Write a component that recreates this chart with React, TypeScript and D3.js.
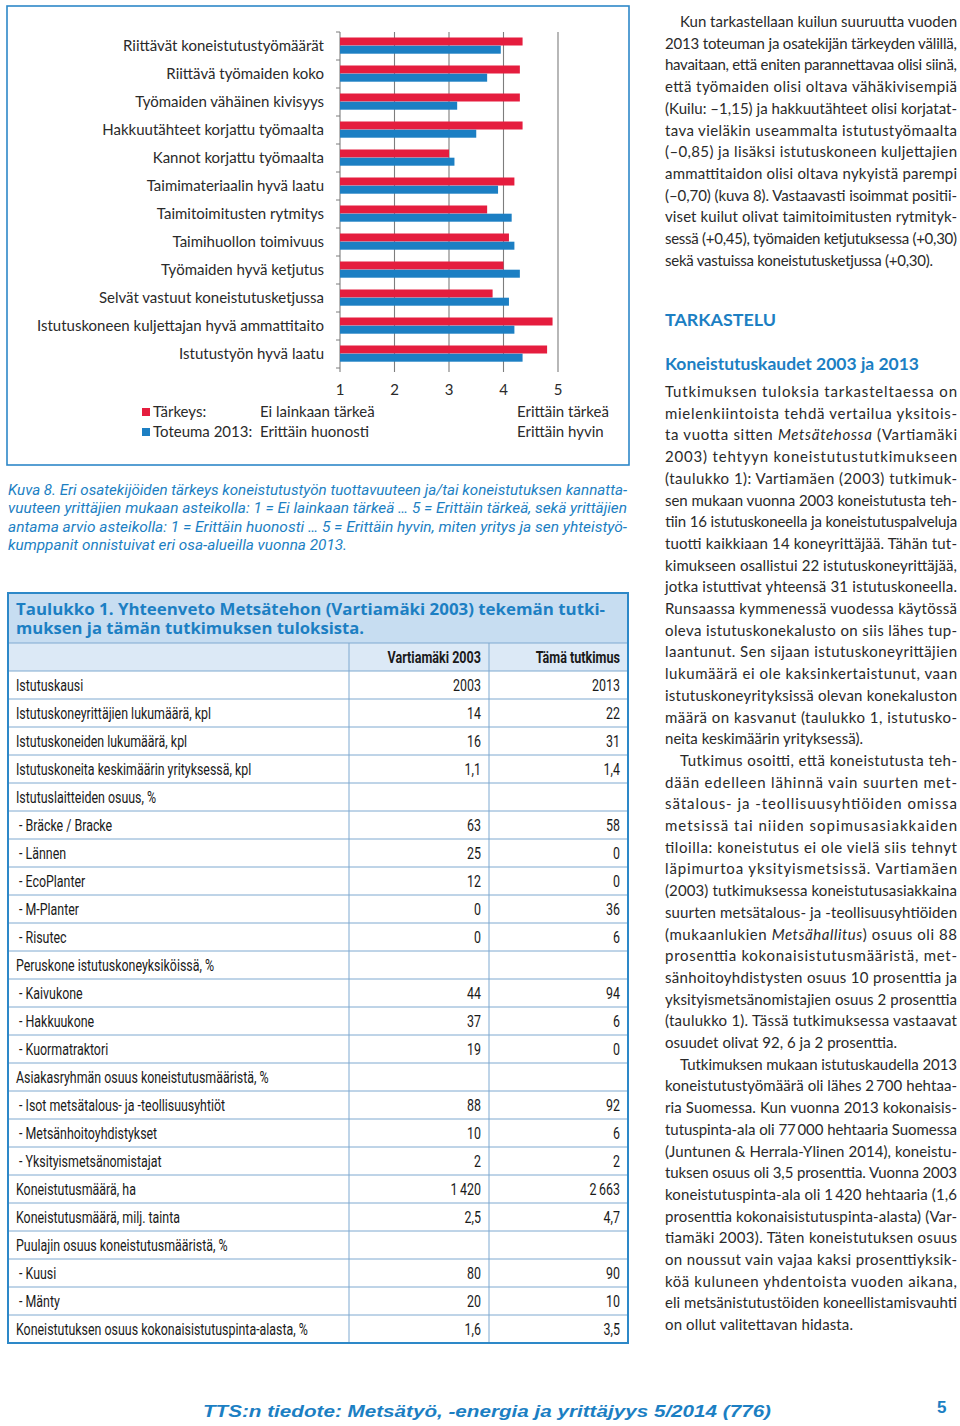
import React from 'react';
import * as d3 from 'd3';

const categories = [
  'Riittävät koneistutustyömäärät',
  'Riittävä työmaiden koko',
  'Työmaiden vähäinen kivisyys',
  'Hakkuutähteet korjattu työmaalta',
  'Kannot korjattu työmaalta',
  'Taimimateriaalin hyvä laatu',
  'Taimitoimitusten rytmitys',
  'Taimihuollon toimivuus',
  'Työmaiden hyvä ketjutus',
  'Selvät vastuut koneistutusketjussa',
  'Istutuskoneen kuljettajan hyvä ammattitaito',
  'Istutustyön hyvä laatu',
];
const importance = [4.35, 4.3, 4.3, 4.35, 3.0, 4.2, 3.7, 4.1, 4.0, 3.8, 4.9, 4.8];
const realization = [3.95, 3.7, 3.15, 3.5, 3.1, 3.9, 4.15, 4.2, 4.3, 4.1, 4.2, 4.35];
const xTicks = [1, 2, 3, 4, 5];
const legendSeries = ['Tärkeys:', 'Toteuma 2013:'];
const legendLow = ['Ei lainkaan tärkeä', 'Erittäin huonosti'];
const legendHigh = ['Erittäin tärkeä', 'Erittäin hyvin'];

const captionLines = [
  'Kuva 8. Eri osatekijöiden tärkeys koneistutustyön tuottavuuteen ja/tai koneistutuksen kannatta-',
  'vuuteen yrittäjien mukaan asteikolla: 1 = Ei lainkaan tärkeä … 5 = Erittäin tärkeä, sekä yrittäjien',
  'antama arvio asteikolla: 1 = Erittäin huonosti … 5 = Erittäin hyvin, miten yritys ja sen yhteistyö-',
  'kumppanit onnistuivat eri osa-alueilla vuonna 2013.',
];
const captionWidths = [619, 619, 619, 339];

const tableTitleLines = [
  'Taulukko 1. Yhteenveto Metsätehon (Vartiamäki 2003) tekemän tutki-',
  'muksen ja tämän tutkimuksen tuloksista.',
];
const tableTitleWidths = [589, 348];
const tableHeaders = ['Vartiamäki 2003', 'Tämä tutkimus'];
const tableLabels = [
  'Istutuskausi',
  'Istutuskoneyrittäjien lukumäärä, kpl',
  'Istutuskoneiden lukumäärä, kpl',
  'Istutuskoneita keskimäärin yrityksessä, kpl',
  'Istutuslaitteiden osuus, %',
  '- Bräcke / Bracke',
  '- Lännen',
  '- EcoPlanter',
  '- M-Planter',
  '- Risutec',
  'Peruskone istutuskoneyksiköissä, %',
  '- Kaivukone',
  '- Hakkuukone',
  '- Kuormatraktori',
  'Asiakasryhmän osuus koneistutusmääristä, %',
  '- Isot metsätalous- ja -teollisuusyhtiöt',
  '- Metsänhoitoyhdistykset',
  '- Yksityismetsänomistajat',
  'Koneistutusmäärä, ha',
  'Koneistutusmäärä, milj. tainta',
  'Puulajin osuus koneistutusmääristä, %',
  '- Kuusi',
  '- Mänty',
  'Koneistutuksen osuus kokonaisistutuspinta-alasta, %',
];
const tableV2003 = ['2003', '14', '16', '1,1', '', '63', '25', '12', '0', '0', '', '44', '37', '19', '', '88', '10', '2', '1\u2009420', '2,5', '', '80', '20', '1,6'];
const tableV2013 = ['2013', '22', '31', '1,4', '', '58', '0', '0', '36', '6', '', '94', '6', '0', '', '92', '6', '2', '2\u2009663', '4,7', '', '90', '10', '3,5'];

// Body text: [text, indent, lastLineWidth or 0 for justified]
const block1: [string, boolean, number][] = [
  ['Kun tarkastellaan kuilun suuruutta vuoden', true, 0],
  ['2013 toteuman ja osatekijän tärkeyden välillä,', false, 0],
  ['havaitaan, että eniten parannettavaa olisi siinä,', false, 0],
  ['että työmaiden olisi oltava vähäkivisempiä', false, 0],
  ['(Kuilu: –1,15) ja hakkuutähteet olisi korjatat-', false, 0],
  ['tava vieläkin useammalta istutustyömaalta', false, 0],
  ['(–0,85) ja lisäksi istutuskoneen kuljettajien', false, 0],
  ['ammattitaidon olisi oltava nykyistä parempi', false, 0],
  ['(–0,70) (kuva 8). Vastaavasti isoimmat positii-', false, 0],
  ['viset kuilut olivat taimitoimitusten rytmityk-', false, 0],
  ['sessä (+0,45), työmaiden ketjutuksessa (+0,30)', false, 0],
  ['sekä vastuissa koneistutusketjussa (+0,30).', false, 268],
];
const headings = ['TARKASTELU', 'Koneistutuskaudet 2003 ja 2013'];
const block2: [string, boolean, number][] = [
  ['Tutkimuksen tuloksia tarkasteltaessa on', false, 0],
  ['mielenkiintoista tehdä vertailua yksitois-', false, 0],
  ['ta vuotta sitten *Metsätehossa* (Vartiamäki', false, 0],
  ['2003) tehtyyn koneistutustutkimukseen', false, 0],
  ['(taulukko 1): Vartiamäen (2003) tutkimuk-', false, 0],
  ['sen mukaan vuonna 2003 koneistutusta teh-', false, 0],
  ['tiin 16 istutuskoneella ja koneistutuspalveluja', false, 0],
  ['tuotti kaikkiaan 14 koneyrittäjää. Tähän tut-', false, 0],
  ['kimukseen osallistui 22 istutuskoneyrittäjää,', false, 0],
  ['jotka istuttivat yhteensä 31 istutuskoneella.', false, 0],
  ['Runsaassa kymmenessä vuodessa käytössä', false, 0],
  ['oleva istutuskonekalusto on siis lähes tup-', false, 0],
  ['laantunut. Sen sijaan istutuskoneyrittäjien', false, 0],
  ['lukumäärä ei ole kaksinkertaistunut, vaan', false, 0],
  ['istutuskoneyrityksissä olevan konekaluston', false, 0],
  ['määrä on kasvanut (taulukko 1, istutusko-', false, 0],
  ['neita keskimäärin yrityksessä).', false, 198],
  ['Tutkimus osoitti, että koneistutusta teh-', true, 0],
  ['dään edelleen lähinnä vain suurten met-', false, 0],
  ['sätalous- ja -teollisuusyhtiöiden omissa', false, 0],
  ['metsissä tai niiden sopimusasiakkaiden', false, 0],
  ['tiloilla: koneistutus ei ole vielä siis tehnyt', false, 0],
  ['läpimurtoa yksityismetsissä. Vartiamäen', false, 0],
  ['(2003) tutkimuksessa koneistutusasiakkaina', false, 0],
  ['suurten metsätalous- ja -teollisuusyhtiöiden', false, 0],
  ['(mukaanlukien *Metsähallitus*) osuus oli 88', false, 0],
  ['prosenttia kokonaisistutusmääristä, met-', false, 0],
  ['sänhoitoyhdistysten osuus 10 prosenttia ja', false, 0],
  ['yksityismetsänomistajien osuus 2 prosenttia', false, 0],
  ['(taulukko 1). Tässä tutkimuksessa vastaavat', false, 0],
  ['osuudet olivat 92, 6 ja 2 prosenttia.', false, 232],
  ['Tutkimuksen mukaan istutuskaudella 2013', true, 0],
  ['koneistutustyömäärä oli lähes 2\u2009700 hehtaa-', false, 0],
  ['ria Suomessa. Kun vuonna 2013 kokonaisis-', false, 0],
  ['tutuspinta-ala oli 77\u2009000 hehtaaria Suomessa', false, 0],
  ['(Juntunen & Herrala-Ylinen 2014), koneistu-', false, 0],
  ['tuksen osuus oli 3,5 prosenttia. Vuonna 2003', false, 0],
  ['koneistutuspinta-ala oli 1\u2009420 hehtaaria (1,6', false, 0],
  ['prosenttia kokonaisistutuspinta-alasta) (Var-', false, 0],
  ['tiamäki 2003). Täten koneistutuksen osuus', false, 0],
  ['on noussut vain vajaa kaksi prosenttiyksik-', false, 0],
  ['köä kuluneen yhdentoista vuoden aikana,', false, 0],
  ['eli metsänistutustöiden koneellistamisvauhti', false, 0],
  ['on ollut valitettavan hidasta.', false, 188],
];
const footerText = 'TTS:n tiedote: Metsätyö, -energia ja yrittäjyys 5/2014 (776)';
const pageNumber = '5';

const RED = '#e51d3e';
const BLUE = '#1c7fc3';
const FRAME = '#2d88c8';
const TEXT = '#2a2a2a';
const BODY_FONT = 'Lato, "Open Sans", sans-serif';
const COND_FONT = 'Roboto, "Liberation Sans", sans-serif';

function renderRich(s: string) {
  const parts = s.split('*');
  return parts.map((p, i) => (
    <tspan key={i} fontStyle={i % 2 === 1 ? 'italic' : 'normal'}>{p}</tspan>
  ));
}

function BodyBlock({ lines, y0 }: { lines: [string, boolean, number][]; y0: number }) {
  const colLeft = 665;
  const colRight = 957;
  const lh = 21.7;
  return (
    <g fontFamily={BODY_FONT} fontSize={15} fill={TEXT}>
      {lines.map(([t, indent, lastW], i) => {
        const x = indent ? colLeft + 15 : colLeft;
        const w = lastW ? lastW : colRight - x;
        return (
          <text key={i} x={x} y={y0 + i * lh + 5} textLength={w} lengthAdjust="spacing">
            {renderRich(t)}
          </text>
        );
      })}
    </g>
  );
}

export default function App() {
  const x = d3.scaleLinear().domain([1, 5]).range([340, 558]);
  const y = d3.scaleBand<string>().domain(categories).range([32, 368]);
  const bw = y.bandwidth();
  const boundaries = d3.range(categories.length + 1).map((i) => 32 + i * bw);

  const rowH = 28;
  const tableTop = 643;
  const col1 = 349;
  const col2 = 489;
  const tableRight = 628;
  const tableLeft = 8;
  const nRows = tableLabels.length + 1;

  return (
    <svg
      width={960}
      height={1426}
      viewBox="0 0 960 1426"
      style={{ position: 'absolute', left: 0, top: 0, display: 'block', background: '#fff' }}
    >
      <rect x={0} y={0} width={960} height={1426} fill="#fff" />

      {/* Chart frame */}
      <rect x={7} y={6} width={622} height={459} fill="none" stroke={FRAME} strokeWidth={1.6} />

      {/* gridlines */}
      {xTicks.slice(1).map((t) => (
        <line key={t} x1={x(t)} x2={x(t)} y1={32} y2={372} stroke="#7d7d7d" strokeWidth={1.1} />
      ))}
      {/* y axis */}
      <line x1={x(1)} x2={x(1)} y1={32} y2={372} stroke="#7d7d7d" strokeWidth={1.1} />
      {boundaries.map((b, i) => (
        <line key={i} x1={336} x2={340} y1={b} y2={b} stroke="#7d7d7d" strokeWidth={1} />
      ))}

      {/* bars */}
      {categories.map((c, i) => (
        <g key={c}>
          <rect x={x(1)} y={(y(c) as number) + 5.5} width={x(importance[i]) - x(1)} height={8} fill={RED} />
          <rect x={x(1)} y={(y(c) as number) + 13.7} width={x(realization[i]) - x(1)} height={8} fill={BLUE} />
          <text
            x={324}
            y={(y(c) as number) + bw / 2 + 5}
            textAnchor="end"
            fontFamily={BODY_FONT}
            fontSize={15}
            fill={TEXT}
          >
            {c}
          </text>
        </g>
      ))}

      {/* x tick labels */}
      {xTicks.map((t) => (
        <text key={t} x={x(t)} y={395} textAnchor="middle" fontFamily={BODY_FONT} fontSize={15} fill={TEXT}>
          {t}
        </text>
      ))}

      {/* legend */}
      {legendSeries.map((s, i) => (
        <g key={s} fontFamily={BODY_FONT} fontSize={15} fill={TEXT}>
          <rect x={142} y={408 + i * 20} width={8} height={8} fill={i === 0 ? RED : BLUE} />
          <text x={153} y={417 + i * 20}>{s}</text>
          <text x={260} y={417 + i * 20}>{legendLow[i]}</text>
          <text x={517} y={417 + i * 20}>{legendHigh[i]}</text>
        </g>
      ))}

      {/* caption */}
      <g fontFamily={COND_FONT} fontStyle="italic" fontSize={15} fill={BLUE}>
        {captionLines.map((l, i) => (
          <text key={i} x={8} y={495 + i * 18.4} textLength={captionWidths[i]} lengthAdjust="spacingAndGlyphs">
            {l}
          </text>
        ))}
      </g>

      {/* Table */}
      <rect x={tableLeft} y={593} width={tableRight - tableLeft} height={50} fill="#c7ddf1" />
      <rect x={tableLeft} y={tableTop} width={tableRight - tableLeft} height={rowH} fill="#dce9f6" />
      {tableTitleLines.map((l, i) => (
        <text
          key={i}
          x={16}
          y={615 + i * 19}
          fontFamily='"Open Sans", sans-serif'
          fontWeight={700}
          fontSize={16.5}
          fill={BLUE}
          textLength={tableTitleWidths[i]}
          lengthAdjust="spacingAndGlyphs"
        >
          {l}
        </text>
      ))}
      {d3.range(nRows + 1).map((i) => (
        <line
          key={i}
          x1={tableLeft}
          x2={tableRight}
          y1={tableTop + i * rowH}
          y2={tableTop + i * rowH}
          stroke="#7fa9d0"
          strokeWidth={1}
        />
      ))}
      <line x1={col1} x2={col1} y1={tableTop} y2={tableTop + nRows * rowH} stroke="#7fa9d0" strokeWidth={1} />
      <line x1={col2} x2={col2} y1={tableTop} y2={tableTop + nRows * rowH} stroke="#7fa9d0" strokeWidth={1} />
      <rect
        x={tableLeft}
        y={593}
        width={tableRight - tableLeft}
        height={tableTop + nRows * rowH - 593}
        fill="none"
        stroke={FRAME}
        strokeWidth={2}
      />
      {/* header */}
      {tableHeaders.map((h, i) => (
        <g key={h} transform={`translate(${i === 0 ? 481 : 620},${tableTop + 20}) scale(0.74,1)`}>
          <text textAnchor="end" fontFamily={COND_FONT} fontWeight={700} fontSize={17} fill="#1a1a1a">
            {h}
          </text>
        </g>
      ))}
      {tableLabels.map((lab, i) => {
        const ty = tableTop + (i + 1) * rowH + 20;
        return (
          <g key={i} fontFamily={COND_FONT} fontSize={17} fill="#1a1a1a">
            <g transform={`translate(${lab.startsWith('-') ? 19 : 16},${ty}) scale(0.73,1)`}>
              <text>{lab}</text>
            </g>
            <g transform={`translate(481,${ty}) scale(0.73,1)`}>
              <text textAnchor="end">{tableV2003[i]}</text>
            </g>
            <g transform={`translate(620,${ty}) scale(0.73,1)`}>
              <text textAnchor="end">{tableV2013[i]}</text>
            </g>
          </g>
        );
      })}

      {/* right column */}
      <BodyBlock lines={block1} y0={22} />
      <text x={665} y={326} fontFamily={BODY_FONT} fontWeight={700} fontSize={17} fill={BLUE} textLength={111} lengthAdjust="spacingAndGlyphs">
        {headings[0]}
      </text>
      <text x={665} y={370} fontFamily={BODY_FONT} fontWeight={700} fontSize={17} fill={BLUE} textLength={254} lengthAdjust="spacingAndGlyphs">
        {headings[1]}
      </text>
      <BodyBlock lines={block2} y0={392} />

      {/* footer */}
      <text
        x={203}
        y={1417}
        fontFamily='"Liberation Sans", Arial, sans-serif'
        fontWeight={700}
        fontStyle="italic"
        fontSize={16}
        fill={BLUE}
        textLength={568}
        lengthAdjust="spacingAndGlyphs"
      >
        {footerText}
      </text>
      <text x={937} y={1413} fontFamily='"Liberation Sans", Arial, sans-serif' fontWeight={700} fontSize={17} fill={BLUE}>
        {pageNumber}
      </text>
    </svg>
  );
}
